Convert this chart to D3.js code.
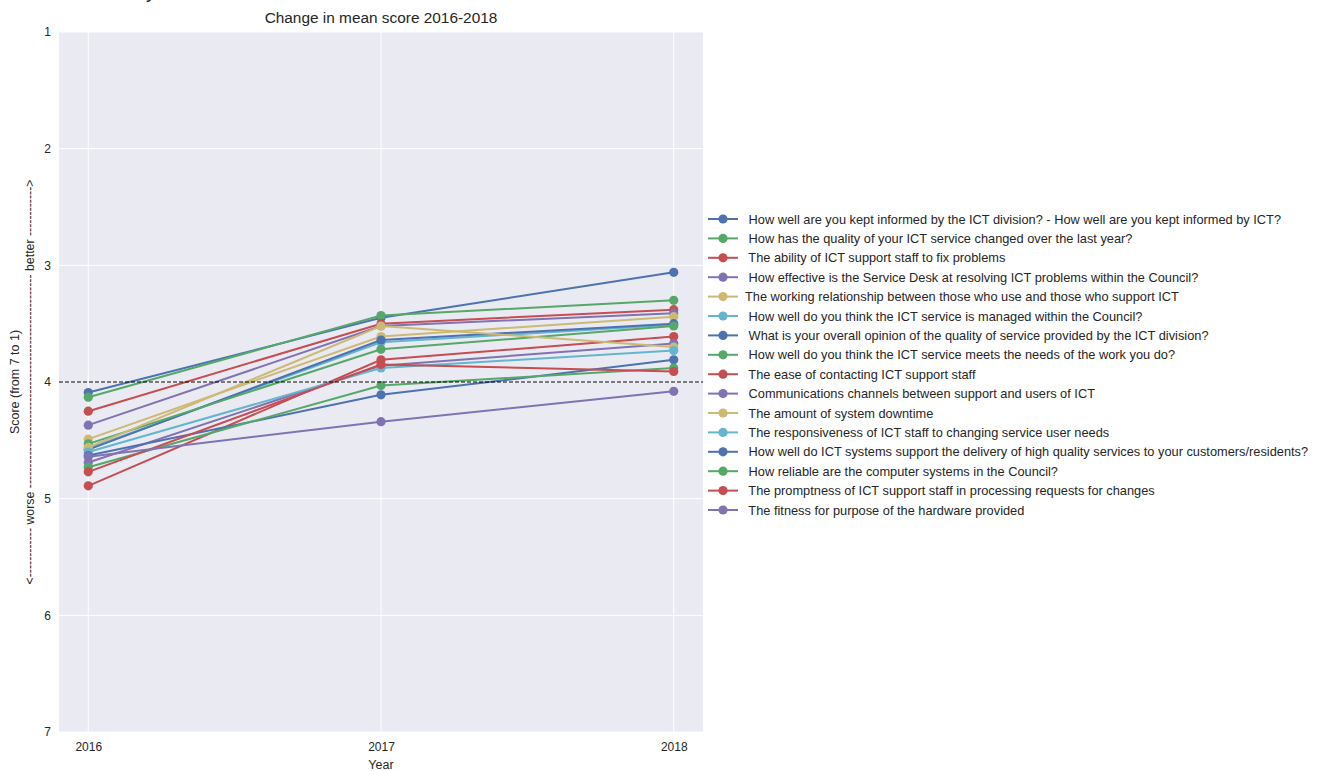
<!DOCTYPE html>
<html>
<head>
<meta charset="utf-8">
<script src="https://cdn.jsdelivr.net/npm/d3@7"></script>
<style>
  body { margin: 0; background: #fff; }
  svg text { font-family: "Liberation Sans", Arial, sans-serif; fill: #262626; }
</style>
</head>
<body>
<svg id="chart" width="1319" height="771"></svg>
<script>
const years = [2016, 2017, 2018];
const yTicks = [1, 2, 3, 4, 5, 6, 7];
const questions = [
  " How well are you kept informed by the ICT division? - How well are you kept informed by ICT?",
  " How has the quality of your ICT service changed over the last year?",
  " The ability of ICT support staff to fix problems",
  " How effective is the Service Desk at resolving ICT problems within the Council?",
  "The working relationship between those who use and those who support ICT",
  " How well do you think the ICT service is managed within the Council?",
  " What is your overall opinion of the quality of service provided by the ICT division?",
  " How well do you think the ICT service meets the needs of the work you do?",
  " The ease of contacting ICT support staff",
  " Communications channels between support and users of ICT",
  " The amount of system downtime",
  " The responsiveness of ICT staff to changing service user needs",
  " How well do ICT systems support the delivery of high quality services to your customers/residents?",
  " How reliable are the computer systems in the Council?",
  " The promptness of ICT support staff in processing requests for changes",
  " The fitness for purpose of the hardware provided"
];
const scores2016 = [4.09, 4.13, 4.25, 4.37, 4.49, 4.57, 4.58, 4.53, 4.89, 4.69, 4.56, 4.60, 4.63, 4.73, 4.77, 4.64];
const scores2017 = [3.45, 3.43, 3.50, 3.52, 3.61, 3.66, 3.64, 3.72, 3.81, 3.86, 3.52, 3.88, 4.11, 4.03, 3.85, 4.34];
const scores2018 = [3.06, 3.30, 3.38, 3.41, 3.44, 3.51, 3.50, 3.52, 3.61, 3.67, 3.70, 3.73, 3.81, 3.88, 3.91, 4.08];
const palette = ["#4C72B0", "#55A868", "#C44E52", "#8172B2", "#CCB974", "#64B5CD"];
const referenceScore = 4;

const svg = d3.select("#chart");
const plot = { left: 59, right: 703, top: 32, bottom: 732 };

const x = d3.scaleLinear().domain([2015.9, 2018.1]).range([plot.left, plot.right]);
const y = d3.scaleLinear().domain([1, 7]).range([plot.top, plot.bottom]);

// background
svg.append("rect").attr("x", plot.left).attr("y", plot.top)
  .attr("width", plot.right - plot.left).attr("height", plot.bottom - plot.top)
  .attr("fill", "#EAEAF2");

// grid
const grid = svg.append("g");
grid.selectAll("line.h").data(yTicks).join("line")
  .attr("x1", plot.left).attr("x2", plot.right)
  .attr("y1", d => y(d)).attr("y2", d => y(d))
  .attr("stroke", "#fff").attr("stroke-width", 1);
grid.selectAll("line.v").data(years).join("line")
  .attr("y1", plot.top).attr("y2", plot.bottom)
  .attr("x1", d => x(d)).attr("x2", d => x(d))
  .attr("stroke", "#fff").attr("stroke-width", 1);

// axes (text only, seaborn style)
const xAxis = d3.axisBottom(x).tickValues(years).tickFormat(d3.format("d")).tickSize(0).tickPadding(10);
const gx = svg.append("g").attr("transform", `translate(0,${plot.bottom})`).call(xAxis);
gx.select(".domain").remove();
gx.selectAll("text").attr("font-size", 12).style("font-family", "Liberation Sans, Arial, sans-serif").attr("fill", "#262626");

const yAxis = d3.axisLeft(y).tickValues(yTicks).tickFormat(d3.format("d")).tickSize(0).tickPadding(8);
const gy = svg.append("g").attr("transform", `translate(${plot.left},0)`).call(yAxis);
gy.select(".domain").remove();
gy.selectAll("text").attr("font-size", 12).style("font-family", "Liberation Sans, Arial, sans-serif").attr("fill", "#262626");

// series
const series = questions.map((q, i) => ({
  label: q,
  color: palette[i % palette.length],
  values: [scores2016[i], scores2017[i], scores2018[i]].map((v, j) => ({ year: years[j], v }))
}));
const line = d3.line().x(d => x(d.year)).y(d => y(d.v));

series.forEach(s => {
  const g = svg.append("g");
  g.append("path").datum(s.values).attr("d", line)
    .attr("fill", "none").attr("stroke", s.color).attr("stroke-width", 2);
  g.selectAll("circle").data(s.values).join("circle")
    .attr("cx", d => x(d.year)).attr("cy", d => y(d.v)).attr("r", 4.6)
    .attr("fill", s.color);
});

// reference line
svg.append("line")
  .attr("x1", plot.left).attr("x2", plot.right)
  .attr("y1", y(referenceScore)).attr("y2", y(referenceScore))
  .attr("stroke", "#000").attr("stroke-width", 1.2).attr("stroke-dasharray", "4,2");

// title & labels
svg.append("text").attr("x", (plot.left + plot.right) / 2).attr("y", 23)
  .attr("text-anchor", "middle").attr("font-size", 15.4).text("Change in mean score 2016-2018");
svg.append("text").attr("x", (plot.left + plot.right) / 2).attr("y", 769)
  .attr("text-anchor", "middle").attr("font-size", 12.5).text("Year");
svg.append("text")
  .attr("transform", `translate(19,${y(referenceScore)}) rotate(-90)`)
  .attr("text-anchor", "middle").attr("font-size", 12.5)
  .text("Score (from 7 to 1)");
svg.append("text")
  .attr("transform", `translate(34,${y(referenceScore)}) rotate(-90)`)
  .attr("text-anchor", "middle").attr("font-size", 12.5)
  .attr("textLength", 405).attr("lengthAdjust", "spacingAndGlyphs")
  .text("<------------ worse ---------------------------------------------------- better ------------>");

// cut-off text at very top
svg.append("text").attr("x", 146).attr("y", -2).attr("font-size", 20).text("y");

// legend
const legend = svg.append("g").attr("transform", "translate(708,219)");
const rowH = 19.4;
series.forEach((s, i) => {
  const r = legend.append("g").attr("transform", `translate(0,${i * rowH})`);
  r.append("line").attr("x1", 0).attr("x2", 30).attr("y1", 0).attr("y2", 0)
    .attr("stroke", s.color).attr("stroke-width", 2);
  r.append("circle").attr("cx", 15).attr("cy", 0).attr("r", 4.6).attr("fill", s.color);
  r.append("text").attr("x", 37).attr("y", 4.6).attr("font-size", 12.8)
    .style("white-space", "pre").text(s.label);
});
</script>
</body>
</html>
